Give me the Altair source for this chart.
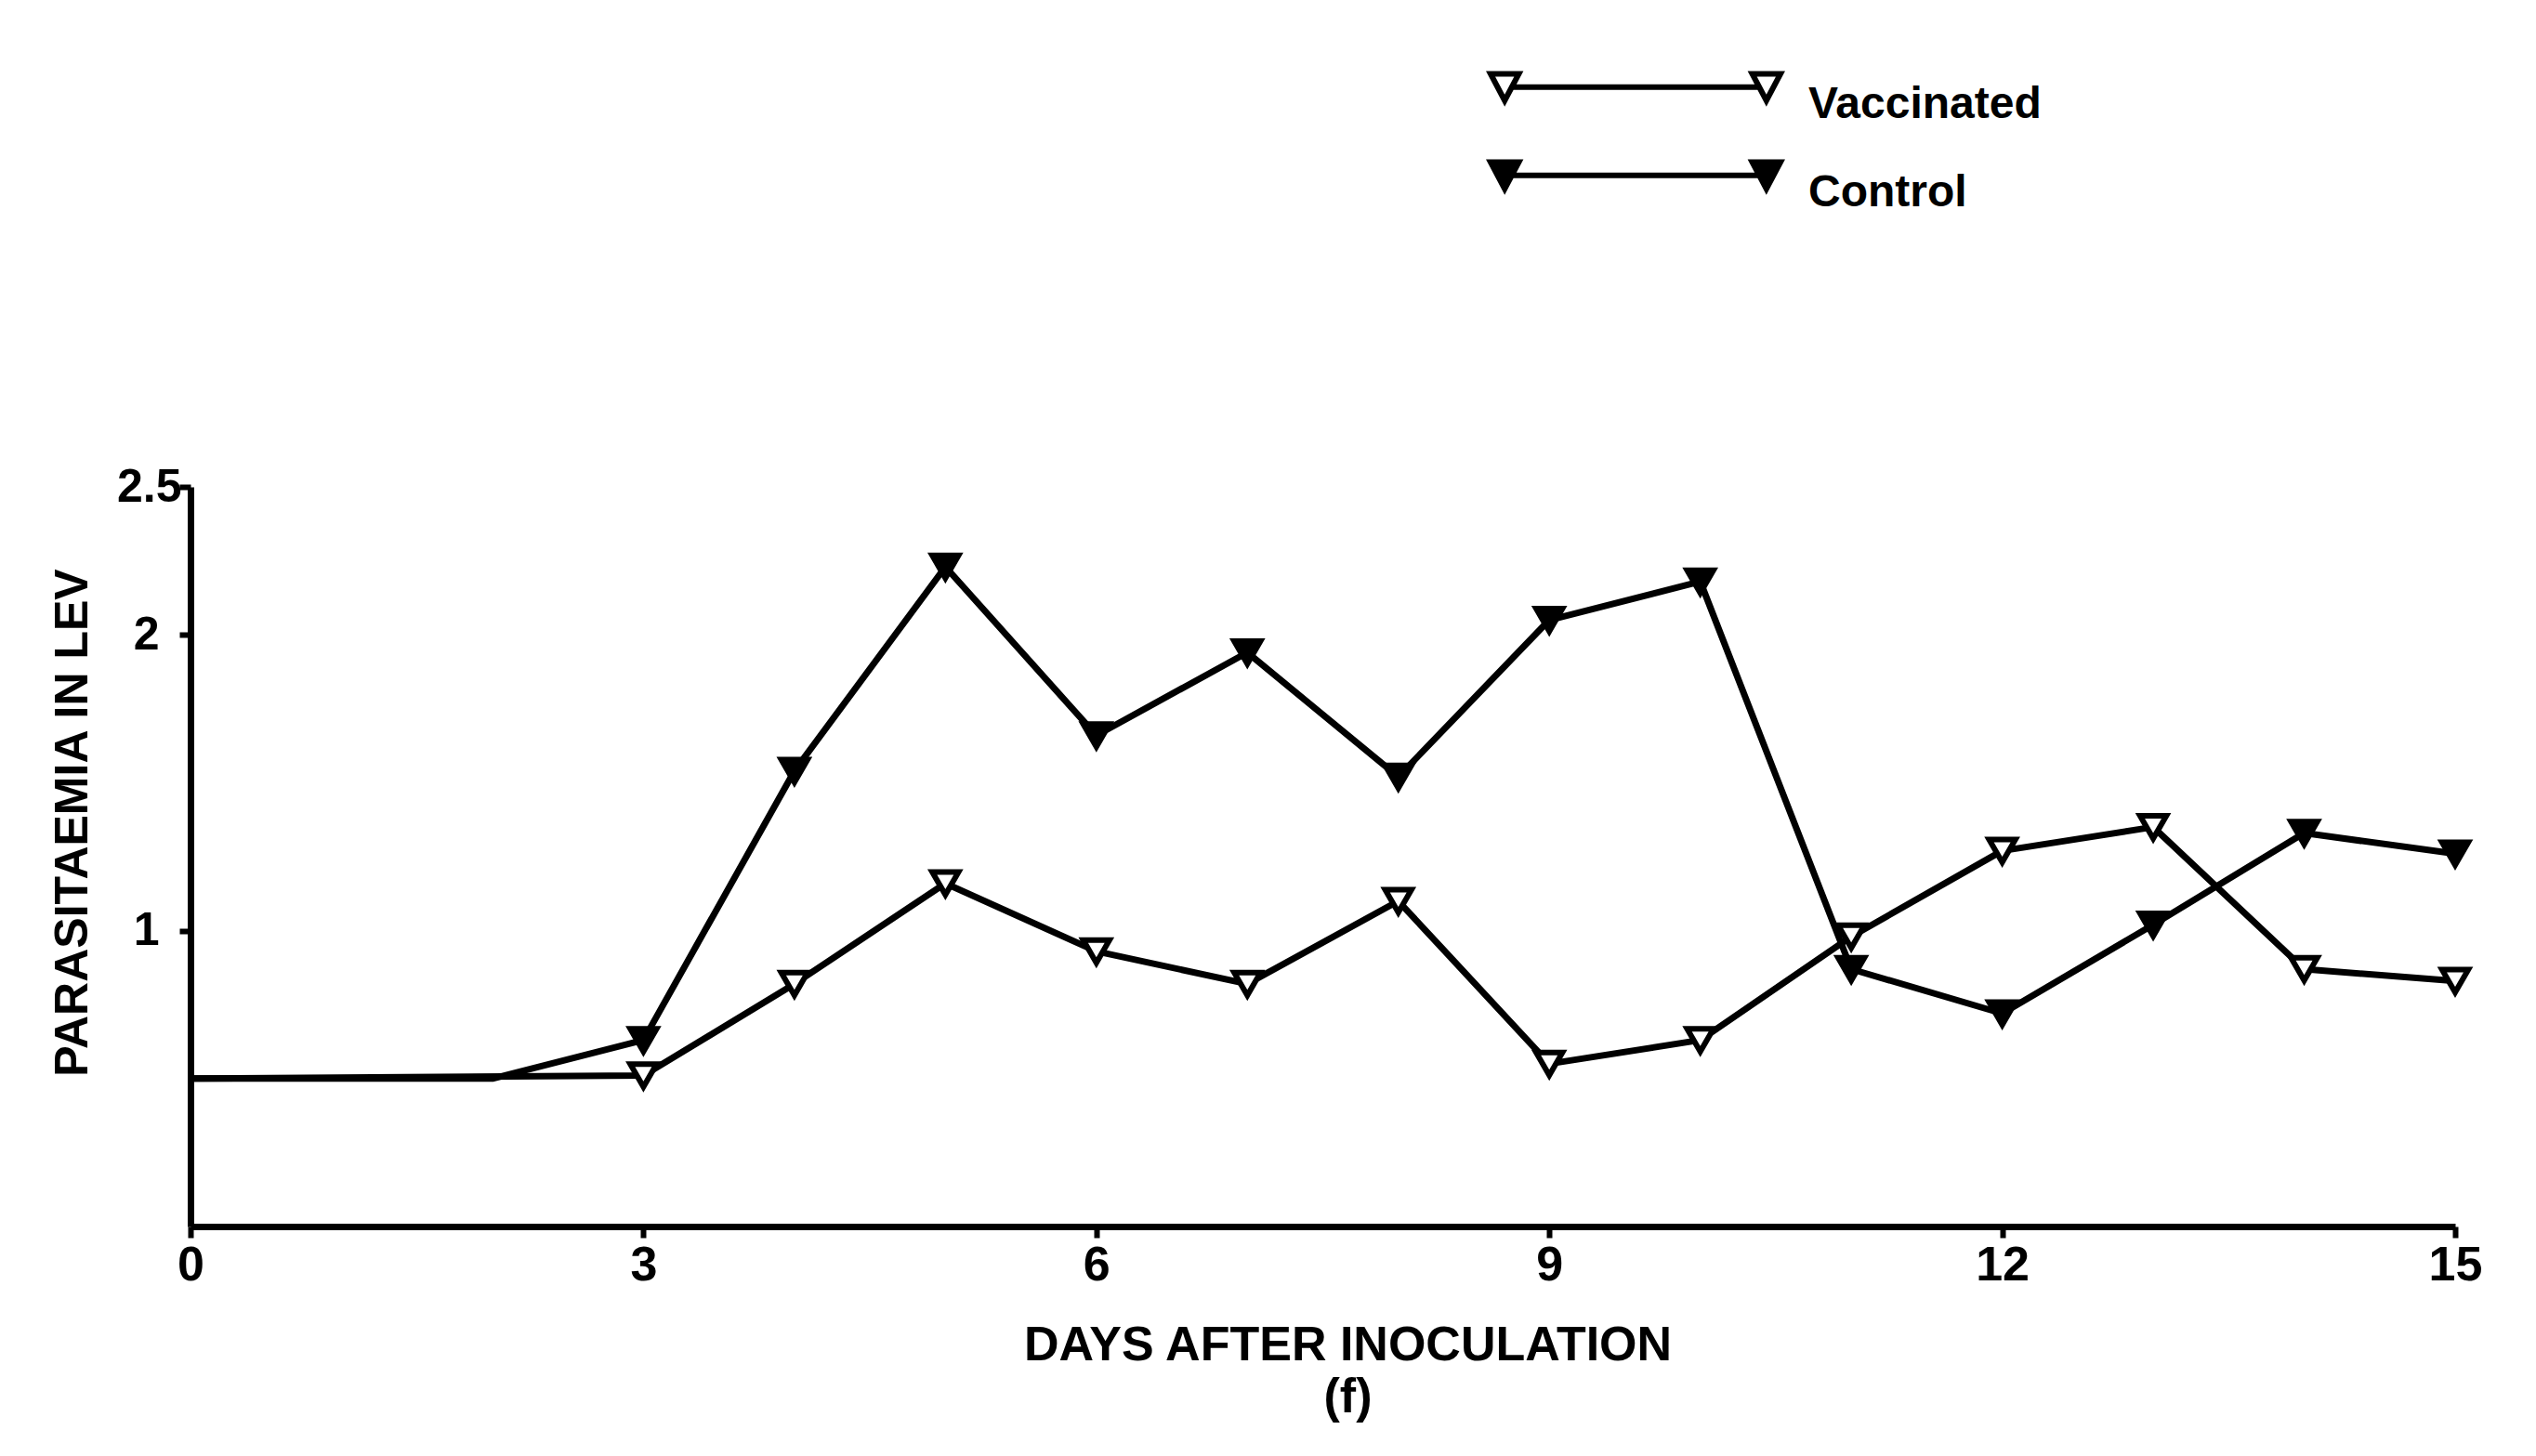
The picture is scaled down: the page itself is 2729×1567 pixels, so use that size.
import altair as alt
import pandas as pd

# Data
vacc_days = [0, 3, 4, 5, 6, 7, 8, 9, 10, 11, 12, 13, 14, 15]
vacc_vals = [0.50, 0.51, 0.82, 1.16, 0.93, 0.82, 1.10, 0.55, 0.63, 0.98, 1.27, 1.35, 0.87, 0.83]

ctrl_days = [0, 2, 3, 4, 5, 6, 7, 8, 9, 10, 11, 12, 13, 14, 15]
ctrl_vals = [0.50, 0.50, 0.63, 1.54, 2.23, 1.66, 1.94, 1.52, 2.05, 2.18, 0.87, 0.72, 1.02, 1.33, 1.26]

series_names = ["Vaccinated", "Control"]
x_ticks = [0, 3, 6, 9, 12, 15]
y_ticks = [1, 2, 2.5]

rows = []
for d, v in zip(vacc_days, vacc_vals):
    rows.append({"day": d, "value": v, "series": "Vaccinated"})
for d, v in zip(ctrl_days, ctrl_vals):
    rows.append({"day": d, "value": v, "series": "Control"})
df = pd.DataFrame(rows)

FONT = "Liberation Sans"

# legend symbol: a line with a down-triangle at each end (unit coords)
LEGEND_PATH = (
    "M-9.75,-2.1 L-7.85,-2.1 L-8.8,-0.3 Z "
    "M-8.3,-1.2 L8.3,-1.2 "
    "M7.85,-2.1 L9.75,-2.1 L8.8,-0.3 Z"
)

x_enc = alt.X(
    "day:Q",
    scale=alt.Scale(domain=[0, 15], nice=False, zero=False),
    axis=alt.Axis(
        values=x_ticks,
        title=["DAYS AFTER INOCULATION", "(f)"],
        titleFont=FONT, titleFontSize=52, titleFontWeight="bold", titleColor="black",
        titleX=1245, titleY=102, titleAlign="center", titleBaseline="top",
        titleLineHeight=56,
        labelFont=FONT, labelFontSize=52, labelFontWeight="bold", labelColor="black",
        labelPadding=4, labelFlush=False, labelOverlap=False,
        tickSize=12, tickWidth=6, tickColor="black",
        domainWidth=7, domainColor="black", grid=False,
        format="d",
    ),
)

y_enc = alt.Y(
    "value:Q",
    scale=alt.Scale(domain=[0, 2.5], nice=False, zero=True),
    axis=alt.Axis(
        values=y_ticks,
        title="PARASITAEMIA IN LEV",
        titleFont=FONT, titleFontSize=50, titleFontWeight="bold", titleColor="black",
        titleAngle=270, titleX=-127, titleY=361, titleAlign="center", titleBaseline="middle",
        labelFont=FONT, labelFontSize=50, labelFontWeight="bold", labelColor="black",
        labelPadding={"condition": {"test": "datum.value == 2.5", "value": -2}, "value": 22},
        labelFlush=False, labelOverlap=False,
        labelExpr="toString(datum.value)",
        tickSize=12, tickWidth=6, tickColor="black",
        domainWidth=7, domainColor="black", grid=False,
    ),
)

base = alt.Chart(df)

lines = base.mark_line(color="black", strokeWidth=7, strokeJoin="round").encode(
    x=x_enc, y=y_enc, detail="series:N", order="day:Q"
)

points = base.transform_filter("datum.day >= 3").mark_point(
    shape="triangle-down", filled=True, size=800, stroke="black", strokeWidth=6, opacity=1
).encode(
    x=x_enc,
    y=y_enc,
    fill=alt.Fill(
        "series:N",
        scale=alt.Scale(domain=series_names, range=["white", "black"]),
        legend=alt.Legend(
            title=None,
            orient="none",
            legendX=1531,
            legendY=-435,
            symbolType=LEGEND_PATH,
            symbolSize=1024,
            symbolStrokeColor="black",
            symbolStrokeWidth=6,
            symbolOpacity=1,
            labelFont=FONT,
            labelFontSize=48,
            labelFontWeight="bold",
            labelColor="black",
            labelOffset=162,
            labelLimit=0,
            rowPadding=25,
            direction="vertical",
        ),
    ),
)

chart = alt.layer(lines, points).properties(
    width=2437,
    height=796,
    autosize=alt.AutoSizeParams(type="none"),
    padding={"left": 197, "top": 516, "right": 60, "bottom": 220},
    background="white",
).configure_view(stroke=None)

chart.save("out.html", embed_options={"renderer": "svg", "actions": False})
